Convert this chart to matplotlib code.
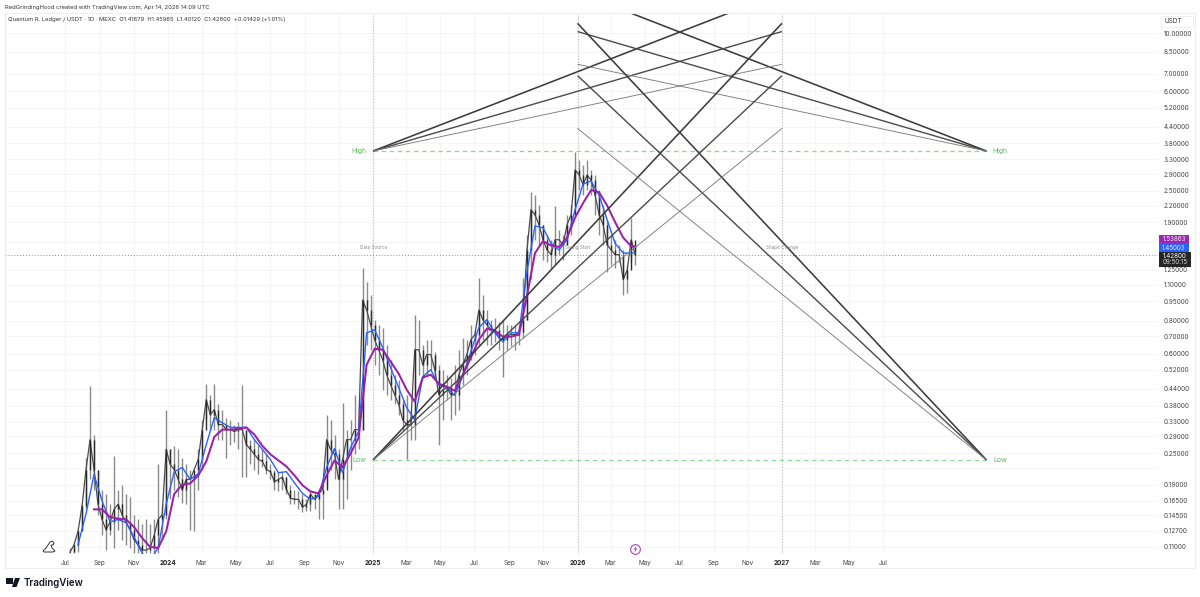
import numpy as np
import pandas as pd
import matplotlib
matplotlib.use("Agg")
import matplotlib.pyplot as plt
import matplotlib.dates as mdates
from matplotlib.patches import Rectangle, Circle, Polygon

plt.rcParams['font.family'] = ['Inter', 'DejaVu Sans']

# ---------- data ----------
first_date = "2023-07-10"
last_date = "2026-04-14"

highs = [.109,.114,.128,.160,.240,.452,.295,.217,.182,.175,
 .160,.244,.182,.189,.175,.171,.146,.140,.134,.140,
 .134,.140,.227,.160,.367,.259,.266,.259,.240,.227,
 .217,.208,.259,.336,.459,.416,.459,.384,.367,.342,
 .336,.322,.330,.456,.308,.282,.282,.270,.259,.248,
 .227,.217,.213,.213,.203,.190,.182,.179,.175,.167,
 .182,.175,.182,.199,.349,.336,.295,.259,.390,.308,
 .336,.416,.384,1.27,1.12,1.00,.808,.773,.750,.649,
 .569,.499,.477,.401,.419,.367,.845,.808,.649,.678,
 .678,.610,.544,.521,.499,.486,.544,.621,.690,.678,
 .773,.740,1.17,1.00,.88,.808,.823,.79,.808,.773,
 .773,.773,.773,1.16,1.70,2.47,2.41,2.22,1.86,1.70,
 1.63,2.20,1.78,1.70,2.03,2.22,3.52,3.28,3.14,3.28,
 3.01,2.88,2.52,2.22,1.94,1.70,1.63,1.56,1.49,1.31,
 1.98,1.56]
lows = [.104,.104,.105,.128,.153,.199,.182,.146,.122,.107,
 .122,.109,.128,.117,.112,.109,.104,.104,.104,.104,
 .104,.104,.104,.117,.140,.167,.182,.171,.162,.160,
 .128,.126,.182,.217,.336,.308,.308,.282,.282,.240,
 .270,.277,.259,.203,.203,.227,.217,.208,.221,.208,
 .199,.182,.179,.182,.175,.160,.160,.153,.149,.151,
 .151,.153,.140,.140,.190,.217,.199,.153,.153,.167,
 .217,.248,.259,.308,.649,.621,.544,.499,.437,.416,
 .401,.384,.351,.308,.237,.282,.282,.499,.486,.499,
 .521,.486,.270,.336,.401,.336,.351,.367,.456,.499,
 .569,.595,.649,.678,.649,.649,.665,.621,.49,.621,
 .64,.621,.649,.69,.808,1.15,1.63,1.56,1.37,1.34,
 1.27,1.31,1.43,1.37,1.56,1.70,2.22,2.52,2.41,2.52,
 2.41,2.03,1.70,1.56,1.23,1.31,1.27,1.34,1.00,1.02,
 1.34,1.31]
closes = [.105,.112,.126,.157,.217,.282,.217,.160,.140,.128,
 .137,.153,.160,.146,.137,.128,.117,.112,.107,.107,
 .109,.122,.140,.146,.259,.227,.217,.199,.182,.199,
 .199,.217,.237,.308,.401,.351,.367,.322,.322,.308,
 .308,.303,.308,.308,.270,.259,.248,.237,.233,.217,
 .213,.195,.199,.203,.182,.169,.167,.167,.156,.160,
 .175,.167,.175,.182,.282,.259,.248,.199,.237,.282,
 .282,.308,.308,.96,.88,.773,.678,.621,.569,.499,
 .456,.419,.384,.336,.322,.322,.621,.621,.544,.595,
 .595,.521,.419,.437,.445,.419,.419,.499,.544,.595,
 .678,.709,.88,.808,.773,.740,.740,.690,.678,.709,
 .709,.709,.727,.808,1.49,2.12,2.03,1.86,1.63,1.49,
 1.43,1.63,1.63,1.56,1.86,2.03,3.01,2.88,2.64,2.88,
 2.75,2.41,2.03,1.86,1.56,1.49,1.43,1.43,1.15,1.25,
 1.63,1.428]

ma_fast = [.112,.147,.208,.165,.137,.140,.136,.120,.104,.098,
 .109,.160,.213,.221,.199,.209,.270,.342,.327,.314,
 .314,.314,.282,.259,.237,.211,.213,.193,.176,.167,
 .171,.221,.261,.211,.263,.303,.720,.740,.632,.530,
 .445,.373,.336,.490,.521,.456,.445,.416,.495,.610,
 .755,.808,.720,.665,.720,.720,1.23,1.84,1.81,1.58,
 1.49,1.63,2.12,2.66,2.73,2.41,1.94,1.58,1.45,1.45,
 1.45003]
ma_slow = [np.nan,np.nan,.153,.153,.143,.141,.140,.131,.119,.110,
 .109,.126,.175,.190,.192,.206,.233,.289,.308,.308,
 .310,.314,.295,.267,.248,.235,.223,.206,.189,.179,
 .176,.206,.235,.221,.250,.287,.544,.626,.621,.559,
 .503,.437,.394,.486,.499,.461,.449,.433,.499,.579,
 .678,.747,.733,.696,.696,.709,.995,1.45,1.61,1.55,
 1.53,1.66,1.98,2.25,2.52,2.47,2.20,1.90,1.66,1.54,
 1.53863]

fan_high_price = 3.55
fan_low_price = 0.236
fan_from_high = [14.28, 10.13, 7.60]
fan_from_low = [10.89, 6.88, 4.33]
anchor_left = "2025-01-01"
anchor_right = "2028-01-01"
target_left = "2026-01-01"
target_right = "2027-01-01"

price_ticks = [10, 8.5, 7, 6, 5.2, 4.4, 3.8, 3.3, 2.9, 2.5, 2.2, 1.9, 1.6, 1.25, 1.1,
               .95, .8, .7, .6, .52, .44, .38, .33, .29, .25, .22, .19, .165, .145, .127, .11]
unlabelled_ticks = [1.6, .22]
month_ticks = ["2023-07-01","2023-09-01","2023-11-01","2024-01-01","2024-03-01","2024-05-01",
               "2024-07-01","2024-09-01","2024-11-01","2025-01-01","2025-03-01","2025-05-01",
               "2025-07-01","2025-09-01","2025-11-01","2026-01-01","2026-03-01","2026-05-01",
               "2026-07-01","2026-09-01","2026-11-01","2027-01-01","2027-03-01","2027-05-01","2027-07-01"]
month_labels = ["Jul","Sep","Nov","2024","Mar","May","Jul","Sep","Nov","2025","Mar","May",
                "Jul","Sep","Nov","2026","Mar","May","Jul","Sep","Nov","2027","Mar","May","Jul"]
last_price = 1.428
event_date = "2026-04-14"
event_level = 0.1085

# ---------- figure ----------
W, H = 1200, 597
fig = plt.figure(figsize=(W/100, H/100), dpi=100, facecolor="white")
fx = lambda x: x / W
fy = lambda y: 1 - y / H
ax = fig.add_axes([fx(5), fy(554), 1153/W, 541/H])
ax.set_yscale("log")
base = mdates.date2num(pd.Timestamp("2024-01-01"))
ppd = 0.5602
ax.set_xlim(base - 163/ppd, base + 990/ppd)
ax.set_ylim(0.1034, 11.92)
for s in ax.spines.values():
    s.set_visible(False)

dates = pd.date_range(first_date, last_date, periods=len(closes))
xd = mdates.date2num(dates)
opens = [closes[0]] + closes[:-1]

ax.set_axisbelow(True)
ax.vlines(xd, lows, highs, color="#8a8a8a", lw=1.0, zorder=2)
ax.plot(xd, closes, color="#4a4a4a", lw=0.9, zorder=2.3)
ax.vlines(xd, opens, closes, color="#2a2a2a", lw=1.0, zorder=2.5)

ma_idx = list(range(2, 141, 2)) + [len(closes) - 1]
ax.plot(xd[ma_idx], ma_fast, color="#2962ff", lw=1.0, zorder=3)
ax.plot(xd[ma_idx], ma_slow, color="#9c1fa8", lw=1.45, zorder=3.2)

# grid
tick_x = mdates.date2num(pd.to_datetime(month_ticks))
ax.set_xticks(tick_x)
ax.set_xticklabels(month_labels)
for lab, txt in zip(ax.get_xticklabels(), month_labels):
    lab.set_fontweight("bold" if txt.isdigit() else "normal")
    lab.set_color("#222222" if txt.isdigit() else "#444444")
ax.set_yticks(price_ticks)
ax.set_yticklabels(["" if t in unlabelled_ticks else f"{t:.5f}" for t in price_ticks])
ax.minorticks_off()
ax.yaxis.tick_right()
ax.tick_params(axis="x", length=0, pad=4.5, labelsize=4.6)
ax.tick_params(axis="y", length=0, pad=3.8, labelsize=4.6, labelcolor="#444444")
ax.grid(True, color="#f5f5f5", lw=0.7, zorder=0)

# verticals and horizontals
for d in [anchor_left, target_left, target_right]:
    ax.axvline(mdates.date2num(pd.Timestamp(d)), color="#c6c6c6", lw=0.9, ls=(0, (1, 1.3)), zorder=1)
ax.axhline(last_price, color="#8f8f8f", lw=0.7, ls=(0, (1, 2)), zorder=1.5)

xl, xr = [mdates.date2num(pd.Timestamp(d)) for d in (anchor_left, anchor_right)]
tl, tr = [mdates.date2num(pd.Timestamp(d)) for d in (target_left, target_right)]
for price in (fan_high_price, fan_low_price):
    ax.hlines(price, xl, xr, color="#8fd694", lw=0.9, ls=(0, (3.5, 3)), zorder=1.5)

# fans
styles = [("#3c3c3c", 1.15), ("#4a4a4a", 1.0), ("#7c7c7c", 0.65)]
for start, targets in ((fan_high_price, fan_from_high), (fan_low_price, fan_from_low)):
    for t, (c, lw) in zip(targets, styles):
        ax.plot([xl, tr], [start, t], color=c, lw=lw, zorder=5, solid_capstyle="butt")
        ax.plot([xr, tl], [start, t], color=c, lw=lw, zorder=5, solid_capstyle="butt")

# text labels in pixel space
def T(x, y, s, **kw):
    kw.setdefault("va", "center")
    kw.setdefault("ha", "left")
    return fig.text(fx(x), fy(y), s, **kw)

T(5, 7, "RedGrindingHood created with TradingView.com, Apr 14, 2026 14:09 UTC", fontsize=4.2, color="#333333")
T(8, 20, "Quantum R. Ledger / USDT · 1D · MEXC  O1.41679  H1.45965  L1.40120  C1.42800  +0.01429 (+1.01%)",
  fontsize=4.2, color="#333333")
for x, y, s in [(359, 151, "High"), (1000, 151, "High"), (359, 460, "Low"), (1000, 460, "Low")]:
    T(x, y, s, fontsize=5.0, color="#5cb860", ha="center", zorder=6)
for x, s in [(373.5, "Data Source"), (578, "Swing Start"), (782.5, "Shape Change")]:
    T(x, 247, s, fontsize=3.4, color="#8f8f8f", ha="center", zorder=6)

# frame
fig.add_artist(Rectangle((fx(5), fy(568)), 1190/W, 555/H, transform=fig.transFigure,
                         fill=False, ec="#eeeeee", lw=0.8))
# currency box
fig.add_artist(Rectangle((fx(1161), fy(27)), 32/W, 11/H, transform=fig.transFigure,
                         fc="white", ec="#eeeeee", lw=0.6))
T(1173, 21, "USDT", fontsize=4.6, color="#333333", ha="center")

# price tags
tags = [(235, 243.3, "#9c27b0", "1.53863"), (243.3, 251.7, "#2962ff", "1.45003")]
for y0, y1, c, s in tags:
    fig.add_artist(Rectangle((fx(1159), fy(y1)), 30/W, (y1-y0)/H, transform=fig.transFigure, fc=c, ec="none", zorder=8))
    T(1174, (y0+y1)/2, s, fontsize=4.5, color="#f3e6f5", ha="center", zorder=9)
fig.add_artist(Rectangle((fx(1159), fy(266.7)), 32/W, 15/H, transform=fig.transFigure, fc="#262626", ec="none", zorder=8))
T(1175, 255.5, "1.42800", fontsize=4.5, color="white", ha="center", zorder=9)
T(1175, 262.5, "09:50:15", fontsize=4.5, color="#cfcfcf", ha="center", zorder=9)

# event marker
ax.plot([mdates.date2num(pd.Timestamp(event_date))], [event_level], marker="o", ms=7, mfc="white",
        mec="#ab47bc", mew=0.8, zorder=7, clip_on=False)
bolt = [(636.5,545.5),(633.5,549.5),(635.3,549.5),(634.5,552.5),(637.5,548.5),(635.7,548.5)]
fig.add_artist(Polygon([(fx(a), fy(b)) for a, b in bolt], closed=True, transform=fig.transFigure,
                       fc="#ab47bc", ec="none", zorder=8))

# dino icon
dino = [(43,551),(46,548),(48,545),(50,542),(52,541),(54,543),(53,545),(51,545),(52,548),(55,551),(53,552),(44,552)]
fig.add_artist(Polygon([(fx(a), fy(b)) for a, b in dino], closed=True, transform=fig.transFigure,
                       fc="white", ec="#333333", lw=0.7, zorder=7))

# logo
k = "#131722"
fig.add_artist(Rectangle((fx(6), fy(584)), 6.5/W, 6.5/H, transform=fig.transFigure, fc=k, ec="none"))
fig.add_artist(Polygon([(fx(15), fy(578)), (fx(20), fy(578)), (fx(16.5), fy(587)), (fx(12), fy(587))],
                       closed=True, transform=fig.transFigure, fc=k, ec="none"))
T(24, 583, "TradingView", fontsize=7.0, color=k, fontweight="semibold")

fig.savefig("out.png", dpi=100, facecolor="white")
